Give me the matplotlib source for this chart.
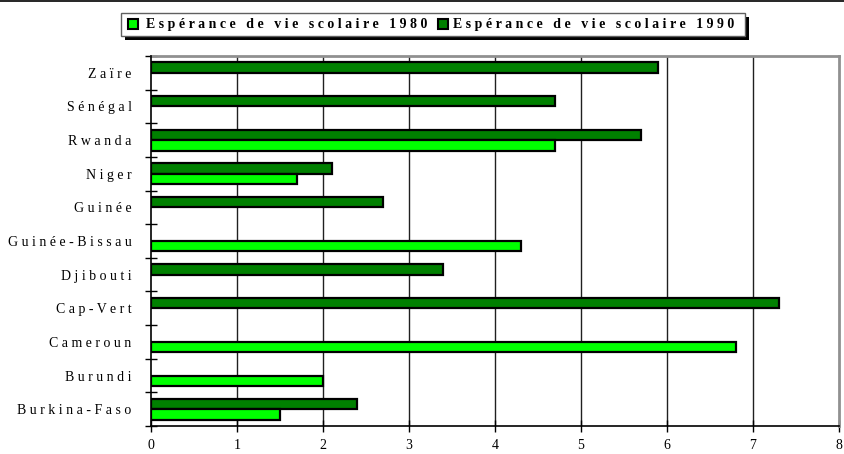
import matplotlib
matplotlib.use('Agg')
import matplotlib.pyplot as plt
from matplotlib.patches import Rectangle
from matplotlib.lines import Line2D
import numpy as np

countries = ['Burkina-Faso', 'Burundi', 'Cameroun', 'Cap-Vert', 'Djibouti',
             'Guinée-Bissau', 'Guinée', 'Niger', 'Rwanda', 'Sénégal', 'Zaïre']
esp_1980 = [1.5, 2.0, 6.8, None, None, 4.3, None, 1.7, 4.7, None, None]
esp_1990 = [2.4, None, None, 7.3, 3.4, None, 2.7, 2.1, 5.7, 4.7, 5.9]
series_names = ['Espérance de vie scolaire 1980', 'Espérance de vie scolaire 1990']
x_ticks = [0, 1, 2, 3, 4, 5, 6, 7, 8]

c1980 = '#00FF00'
c1990 = '#008000'
W, H = 845, 454
SERIF = ['Liberation Serif', 'DejaVu Serif']


def spaced(s, gap=' '):
    return '   '.join(gap.join(list(w)) for w in s.split(' '))


def fx(x):
    return x / W


def fy(y):
    return 1 - y / H


fig = plt.figure(figsize=(W / 100, H / 100), dpi=100)
ax = fig.add_axes([fx(151), fy(426), (839 - 151) / W, (426 - 56) / H])

ypos = np.arange(len(countries))
bh = 0.31
for i, v in enumerate(esp_1990):
    if v is not None:
        ax.barh(ypos[i] + bh / 2, v, height=bh, color=c1990, edgecolor='black',
                linewidth=1.6, zorder=3)
for i, v in enumerate(esp_1980):
    if v is not None:
        ax.barh(ypos[i] - bh / 2, v, height=bh, color=c1980, edgecolor='black',
                linewidth=1.6, zorder=3)

ax.set_xlim(0, 8)
ax.set_ylim(-0.5, len(countries) - 0.5)

# vertical gridlines
for t in x_ticks[1:-1]:
    ax.axvline(t, color='#202020', linewidth=1.0, zorder=1)

# spines
for s in ['top', 'right']:
    ax.spines[s].set_color('#909090')
    ax.spines[s].set_linewidth(2)
for s in ['left', 'bottom']:
    ax.spines[s].set_color('black')
    ax.spines[s].set_linewidth(1.2)
    ax.spines[s].set_zorder(4)

ax.set_xticks(x_ticks)
ax.set_xticklabels([str(t) for t in x_ticks], fontfamily=SERIF, fontsize=10)
ax.tick_params(axis='x', direction='inout', length=8, width=1, pad=5.5)

ax.set_yticks(np.arange(-0.5, len(countries), 1.0))
ax.set_yticklabels([])
ax.tick_params(axis='y', which='major', direction='inout', length=8, width=1)
ax.set_yticks(ypos, minor=True)
ax.set_yticklabels([spaced(c) for c in countries], minor=True,
                   fontfamily=SERIF, fontsize=10)
ax.tick_params(axis='y', which='minor', length=0, pad=14)

# top border line of the image
fig.add_artist(Line2D([0, 1], [fy(1), fy(1)], color='black', linewidth=1.2))

# legend (manual, Excel-like with shadow)
lx0, lx1, ly0, ly1 = 121, 745, 13, 36
fig.add_artist(Rectangle((fx(lx0 + 4), fy(ly1 + 4)), (lx1 - lx0) / W, (ly1 - ly0) / H,
                         transform=fig.transFigure, facecolor='black',
                         edgecolor='black', linewidth=0))
fig.add_artist(Rectangle((fx(lx0), fy(ly1)), (lx1 - lx0) / W, (ly1 - ly0) / H,
                         transform=fig.transFigure, facecolor='white',
                         edgecolor='#606060', linewidth=1))
entries = [(128, 146, c1980, series_names[0]), (438, 453, c1990, series_names[1])]
for sx, tx, col, name in entries:
    fig.add_artist(Rectangle((fx(sx), fy(29)), 10 / W, 10 / H,
                             transform=fig.transFigure, facecolor=col,
                             edgecolor='black', linewidth=1.5))
    fig.text(fx(tx), fy(24.5), spaced(name), fontfamily=SERIF, fontsize=10,
             fontweight='bold', va='center', ha='left')

fig.savefig('out.png', dpi=100)
